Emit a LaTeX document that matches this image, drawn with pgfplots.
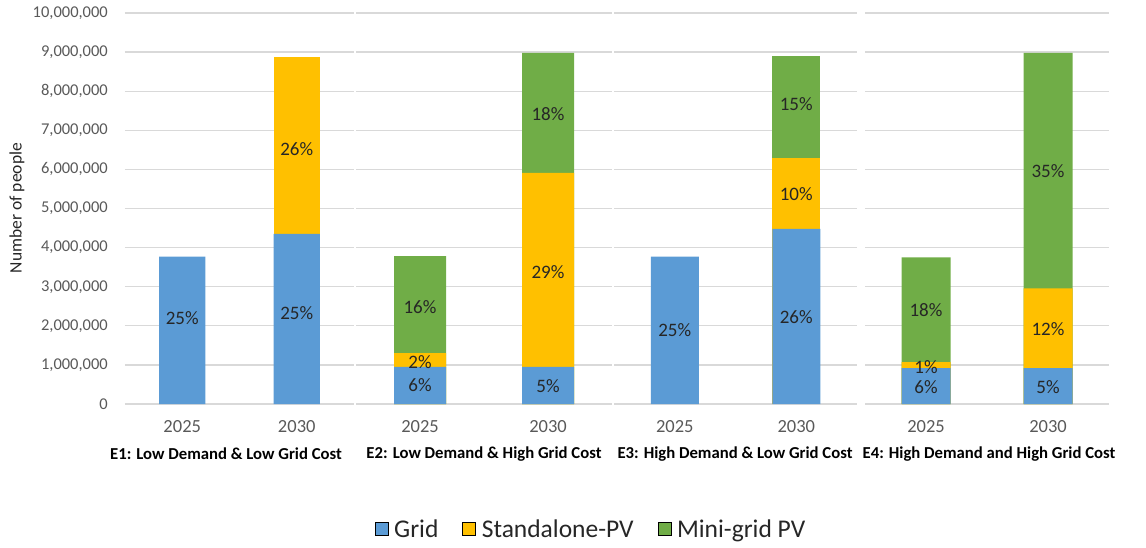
\documentclass[border=0pt]{standalone}
\usepackage{pgfplots}
\pgfplotsset{compat=1.18}
\usepackage{pgfplotstable}
\usepackage{fontspec}
\setmainfont{Carlito}
\definecolor{cgrid}{HTML}{5B9BD5}
\definecolor{cspv}{HTML}{FFC000}
\definecolor{cmg}{HTML}{70AD47}
\definecolor{gline}{HTML}{D9D9D9}
\definecolor{ticktext}{HTML}{595959}
\definecolor{labtext}{HTML}{262626}

% values in millions of people
\pgfplotstableread{
x grid spv mg
0 3.77 0    0
1 4.35 4.52 0
}\tA
\pgfplotstableread{
x grid spv mg
0 0.95 0.35 2.48
1 0.95 4.96 3.07
}\tB
\pgfplotstableread{
x grid spv mg
0 3.77 0    0
1 4.48 1.81 2.61
}\tC
\pgfplotstableread{
x grid spv mg
0 0.92 0.15 2.68
1 0.92 2.04 6.02
}\tD

\pgfplotsset{
  panel/.style={
    scale only axis, height=391pt, ymin=0, ymax=10, xmin=-0.5, xmax=1.5,
    anchor=south west, axis line style={draw=none}, major tick length=0pt,
    ytick={0,1,...,10}, ymajorgrids, grid style={gline, line width=1.3pt},
    xtick={0,1}, xticklabels={2025,2030},
    xticklabel style={anchor=center, yshift=-23pt, font=\fontsize{18.5}{20}\selectfont, text=ticktext},
    yticklabels={}, clip=false,
  },
  seg/.style={ybar, bar shift=0pt, draw=none, fill=#1, forget plot},
  labs/.style={only marks, mark=none, forget plot, point meta=explicit symbolic,
    nodes near coords,
    every node near coord/.append style={anchor=center, font=\fontsize{19}{21}\selectfont, text=labtext}},
}

\begin{document}
\begin{tikzpicture}[x=1pt,y=1pt]
\path[use as bounding box] (0,0) rectangle (1146,-548);

% Panel E1 (no mini-grid; standalone only in 2030)
\begin{axis}[panel, at={(125pt,-404pt)}, width=229pt,
  yticklabels={0,{1,000,000},{2,000,000},{3,000,000},{4,000,000},{5,000,000},{6,000,000},{7,000,000},{8,000,000},{9,000,000},{10,000,000}},
  yticklabel style={anchor=east, inner sep=0pt, xshift=-17pt, font=\fontsize{16.5}{18}\selectfont, text=ticktext},
  legend columns=3,
  legend image code/.code={\fill[#1] (0pt,-6.5pt) rectangle (13pt,6.5pt);},
  legend style={draw=none, fill=none, at={(2.035,-0.3197)}, anchor=center,
    font=\fontsize{25.5}{28}\selectfont, text=labtext,
    nodes={inner sep=2pt},
    /tikz/every odd column/.append style={column sep=4pt},
    /tikz/every even column/.append style={column sep=22pt}},
]
\addplot[seg=cspv, bar width=46pt, skip coords between index={0}{1}] table[x=x, y expr=\thisrow{grid}+\thisrow{spv}] {\tA};
\addplot[seg=cgrid, bar width=46pt] table[x=x, y=grid] {\tA};
\addplot[labs] coordinates {(0,2.20) [25\%] (1,2.33) [25\%] (1,6.52) [26\%]};
\addlegendimage{fill=cgrid}\addlegendentry{Grid}
\addlegendimage{fill=cspv}\addlegendentry{Standalone-PV}
\addlegendimage{fill=cmg}\addlegendentry{Mini-grid PV}
\end{axis}

% Panel E2
\begin{axis}[panel, at={(356pt,-404pt)}, width=256pt]
\addplot[seg=cmg, bar width=52pt]  table[x=x, y expr=\thisrow{grid}+\thisrow{spv}+\thisrow{mg}] {\tB};
\addplot[seg=cspv, bar width=52pt] table[x=x, y expr=\thisrow{grid}+\thisrow{spv}] {\tB};
\addplot[seg=cgrid, bar width=52pt] table[x=x, y=grid] {\tB};
\addplot[labs] coordinates {(0,0.49) [6\%] (0,1.07) [2\%] (0,2.49) [16\%] (1,0.46) [5\%] (1,3.38) [29\%] (1,7.42) [18\%]};
\end{axis}

% Panel E3 (2025 grid only)
\begin{axis}[panel, at={(614pt,-404pt)}, width=243pt]
\addplot[seg=cmg, bar width=48pt, skip coords between index={0}{1}]  table[x=x, y expr=\thisrow{grid}+\thisrow{spv}+\thisrow{mg}] {\tC};
\addplot[seg=cspv, bar width=48pt, skip coords between index={0}{1}] table[x=x, y expr=\thisrow{grid}+\thisrow{spv}] {\tC};
\addplot[seg=cgrid, bar width=48pt] table[x=x, y=grid] {\tC};
\addplot[labs] coordinates {(0,1.89) [25\%] (1,2.23) [26\%] (1,5.37) [10\%] (1,7.67) [15\%]};
\end{axis}

% Panel E4
\begin{axis}[panel, at={(865pt,-404pt)}, width=244pt]
\addplot[seg=cmg, bar width=49pt]  table[x=x, y expr=\thisrow{grid}+\thisrow{spv}+\thisrow{mg}] {\tD};
\addplot[seg=cspv, bar width=49pt] table[x=x, y expr=\thisrow{grid}+\thisrow{spv}] {\tD};
\addplot[seg=cgrid, bar width=49pt] table[x=x, y=grid] {\tD};
\addplot[labs] coordinates {(0,0.44) [6\%] (0,0.95) [1\%] (0,2.40) [18\%] (1,0.44) [5\%] (1,1.92) [12\%] (1,5.96) [35\%]};
\end{axis}

\node[rotate=90, font=\fontsize{17.5}{20}\selectfont, text=labtext] at (17,-208) {Number of people};
\begin{scope}[every node/.style={font=\bfseries\fontsize{16.7}{20}\selectfont, text=black}]
\node at (226,-454) {E1: Low Demand \& Low Grid Cost};
\node at (484,-454) {E2: Low Demand \& High Grid Cost};
\node at (735,-454) {E3: High Demand \& Low Grid Cost};
\node at (989,-454) {E4: High Demand and High Grid Cost};
\end{scope}
\end{tikzpicture}
\end{document}
